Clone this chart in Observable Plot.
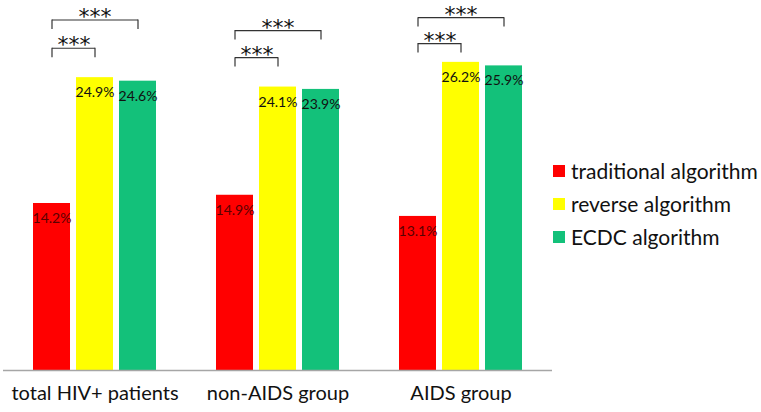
<!DOCTYPE html>
<html>
<head>
<meta charset="utf-8">
<script src="https://cdn.jsdelivr.net/npm/d3@7"></script>
<script src="https://cdn.jsdelivr.net/npm/@observablehq/plot@0.6"></script>
<style>
  html, body { margin: 0; padding: 0; background: #fff; }
  #wrap { position: relative; width: 761px; height: 412px; font-family: Lato, "Open Sans", sans-serif; }
  #legend { position: absolute; left: 553px; top: 154px; }
  .item { display: flex; align-items: center; height: 33px; font-size: 21px; color: #111; white-space: nowrap; }
  .sw { width: 12px; height: 12px; margin-right: 6px; flex: none; }
</style>
</head>
<body>
<div id="wrap"></div>
<script>
const groups = ["total HIV+ patients", "non-AIDS group", "AIDS group"];
const algorithms = ["traditional algorithm", "reverse algorithm", "ECDC algorithm"];
const traditional = [14.2, 14.9, 13.1];
const reverse = [24.9, 24.1, 26.2];
const ecdc = [24.6, 23.9, 25.9];
const colors = ["#ff0000", "#ffff00", "#13c17a"];

// significance brackets: from traditional algorithm to the given algorithm, drawn at a level (%)
const bracketGroup = ["total HIV+ patients", "total HIV+ patients", "non-AIDS group", "non-AIDS group", "AIDS group", "AIDS group"];
const bracketTo = ["reverse algorithm", "ECDC algorithm", "reverse algorithm", "ECDC algorithm", "reverse algorithm", "ECDC algorithm"];
const bracketLevel = [27.4, 29.8, 26.6, 28.9, 27.8, 30.0];
const bracketLabel = ["***", "***", "***", "***", "***", "***"];

const series = [traditional, reverse, ecdc];
const table = [];
groups.forEach((g, gi) => algorithms.forEach((a, ai) => table.push({group: g, alg: a, value: series[ai][gi]})));

const brackets = bracketGroup.map((g, i) => ({
  group: g, from: algorithms[0], to: bracketTo[i], level: bracketLevel[i], label: bracketLabel[i],
  span: algorithms.indexOf(bracketTo[i])
}));
const ends = brackets.flatMap(b => [{group: b.group, x: b.from, level: b.level}, {group: b.group, x: b.to, level: b.level}]);

const font = "Lato, 'Open Sans', sans-serif";
const starFont = "'DejaVu Sans', sans-serif";
const chart = Plot.plot({
  width: 761,
  height: 412,
  marginTop: 0,
  marginBottom: 42,
  marginLeft: 2,
  marginRight: 209,
  style: {fontFamily: font, background: "transparent"},
  fx: {domain: groups, padding: 0, axis: null},
  x: {domain: algorithms, paddingInner: 0.136, paddingOuter: 0.648, axis: null},
  y: {domain: [0, 31.46], axis: null},
  color: {domain: algorithms, range: colors},
  marks: [
    Plot.barY(table, {fx: "group", x: "alg", y: "value", fill: "alg"}),
    Plot.ruleY([0], {stroke: "#a6a6a6", strokeWidth: 1.5}),
    Plot.text(table, {
      fx: "group", x: "alg", y: "value", dy: 15,
      text: d => d.value.toFixed(1) + "%", fontSize: 14,
      fill: d => d.alg === algorithms[0] ? "#5a0000" : "#111"
    }),
    Plot.text(groups, {fx: d => d, frameAnchor: "bottom", dy: 29, text: d => d, fontSize: 20, fill: "#111"}),
    Plot.link(brackets, {fx: "group", x1: "from", x2: "to", y1: "level", y2: "level", stroke: "#333", strokeWidth: 1.2}),
    Plot.ruleX(ends, {fx: "group", x: "x", y1: "level", y2: d => d.level - 0.8, stroke: "#333", strokeWidth: 1.2}),
    Plot.text(brackets.filter(b => b.span % 2 === 1), {
      fx: "group", x: "from", y: "level", dx: 22, dy: -3, text: "label",
      fontSize: 22, fontFamily: starFont, letterSpacing: "2.5px", fill: "#111"
    }),
    Plot.text(brackets.filter(b => b.span % 2 === 0), {
      fx: "group", x: d => algorithms[d.span / 2], y: "level", dy: -3, text: "label",
      fontSize: 22, fontFamily: starFont, letterSpacing: "2.5px", fill: "#111"
    })
  ]
});
const wrap = document.getElementById("wrap");
wrap.appendChild(chart);

const legend = document.createElement("div");
legend.id = "legend";
algorithms.forEach((a, i) => {
  const item = document.createElement("div");
  item.className = "item";
  const sw = document.createElement("span");
  sw.className = "sw";
  sw.style.background = colors[i];
  item.appendChild(sw);
  item.appendChild(document.createTextNode(a));
  legend.appendChild(item);
});
wrap.appendChild(legend);
</script>
</body>
</html>
